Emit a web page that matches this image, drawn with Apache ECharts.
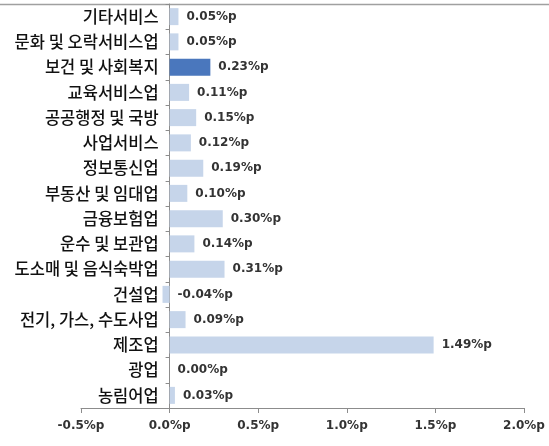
<!DOCTYPE html>
<html>
<head>
<meta charset="utf-8">
<script src="https://cdn.jsdelivr.net/npm/echarts@6/dist/echarts.min.js"></script>
<style>
  html, body { margin: 0; padding: 0; background: #fff; }
  #chart { width: 549px; height: 446px; }
</style>
</head>
<body>
<div id="chart"></div>
<script>
// 산업별 기여도 (위에서 아래 순서)
var categories = ['기타서비스', '문화 및 오락서비스업', '보건 및 사회복지', '교육서비스업',
  '공공행정 및 국방', '사업서비스', '정보통신업', '부동산 및 임대업', '금융보험업',
  '운수 및 보관업', '도소매 및 음식숙박업', '건설업', '전기, 가스, 수도사업',
  '제조업', '광업', '농림어업'];
var values = [0.05, 0.05, 0.23, 0.11, 0.15, 0.12, 0.19, 0.10, 0.30,
  0.14, 0.31, -0.04, 0.09, 1.49, 0.00, 0.03];
var highlight = '보건 및 사회복지';
var xTicks = [-0.5, 0.0, 0.5, 1.0, 1.5, 2.0];

var gridLeft = 81, gridRight = 25;
var plotW = 549 - gridLeft - gridRight;
// y축을 0 위치로 이동
var zeroShift = (0 - xTicks[0]) / (xTicks[xTicks.length - 1] - xTicks[0]) * plotW;

var myChart = echarts.init(document.getElementById('chart'));

myChart.setOption({
    animation: false,
    grid: { left: gridLeft, right: gridRight, top: 4, bottom: 38, containLabel: false, outerBoundsMode: 'none' },
    graphic: [{
        type: 'line',
        shape: { x1: 0, y1: 4.5, x2: 549, y2: 4.5 },
        style: { stroke: '#a0a0a0', lineWidth: 1.5 }
    }],
    xAxis: {
        type: 'value',
        min: xTicks[0],
        max: xTicks[xTicks.length - 1],
        interval: 0.5,
        splitLine: { show: false },
        axisLine: { show: true, lineStyle: { color: '#8c8c8c' } },
        axisTick: { show: true, length: 5, inside: false, lineStyle: { color: '#8c8c8c' } },
        axisLabel: {
            margin: 12,
            color: '#333',
            fontFamily: 'DejaVu Sans',
            fontWeight: 'bold',
            fontSize: 12,
            formatter: function (v) { return v.toFixed(1) + '%p'; }
        }
    },
    yAxis: {
        type: 'category',
        data: categories,
        inverse: true,
        position: 'left',
        offset: -zeroShift,
        axisLine: { onZero: false, show: true, lineStyle: { color: '#8c8c8c' } },
        axisTick: { show: true, length: 4, lineStyle: { color: '#8c8c8c' } },
        axisLabel: {
            margin: 11,
            color: '#111',
            fontFamily: 'Noto Sans CJK KR',
            fontWeight: 500,
            fontSize: 16.5
        }
    },
    series: [{
        type: 'bar',
        barWidth: 17,
        data: values.map(function (v, i) {
            return {
                value: v,
                itemStyle: { color: categories[i] === highlight ? '#4a77bd' : '#c6d5ea' }
            };
        }),
        label: {
            show: true,
            position: 'right',
            distance: 8,
            color: '#333',
            fontFamily: 'DejaVu Sans',
            fontWeight: 'bold',
            fontSize: 12,
            formatter: function (p) { return p.value.toFixed(2) + '%p'; }
        }
    }]
});
</script>
</body>
</html>
